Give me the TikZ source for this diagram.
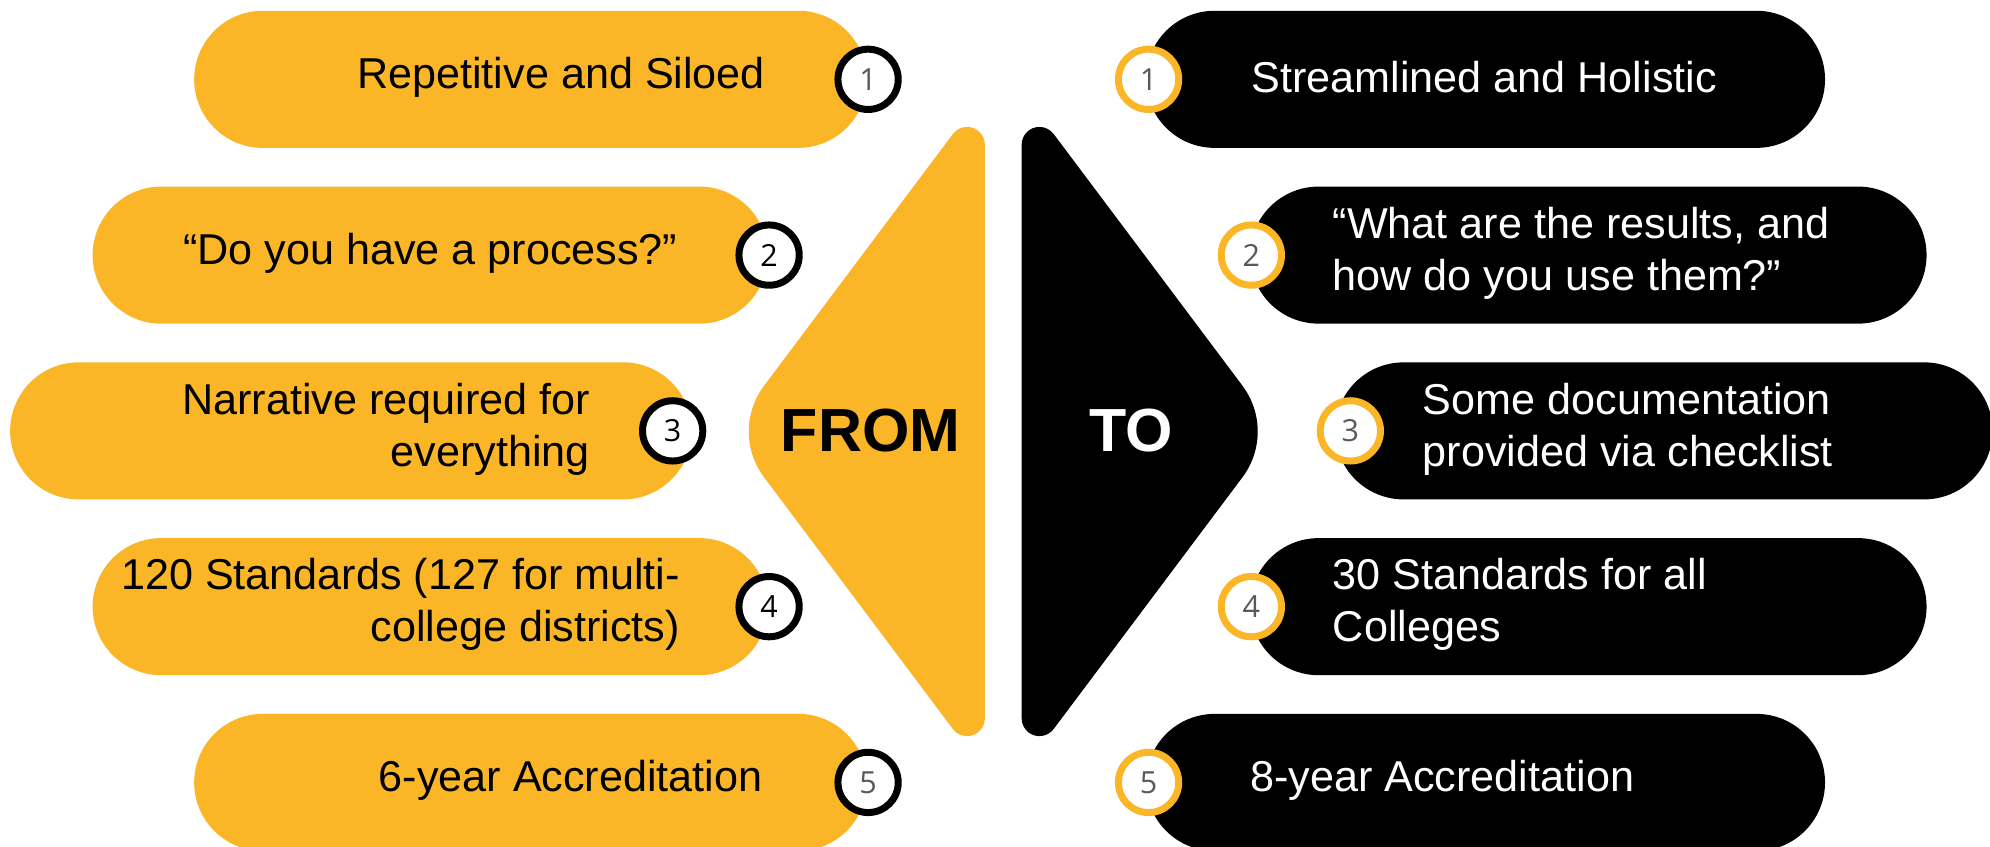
\documentclass[tikz,border=0pt]{standalone}
\usepackage{fontspec}
\setmainfont{Liberation Sans}
\newfontfamily\numfont{Open Sans}
\definecolor{yel}{RGB}{250,182,39}
\definecolor{numgray}{RGB}{89,89,89}
\tikzset{
  lpill/.style={rectangle, fill=yel, rounded corners=54pt, minimum height=108pt, inner sep=0pt},
  rpill/.style={rectangle, fill=black, rounded corners=54pt, minimum height=108pt, inner sep=0pt},
  numbase/.style={circle, fill=white, line width=5.5pt, minimum size=47.5pt, inner sep=0pt, font=\numfont\fontsize{24}{28}\selectfont},
  lnum/.style={numbase, draw=black, text=black},
  rnum/.style={numbase, draw=yel, text=numgray},
  txtbase/.style={inner sep=0pt, font=\fontsize{34}{41}\selectfont},
  ltxt/.style={txtbase, text=black, align=right},
  rtxt/.style={txtbase, text=white, align=left},
  bigtxt/.style={inner sep=0pt, font=\bfseries\fontsize{48}{56}\selectfont}
}
\begin{document}
\begin{tikzpicture}[x=1pt,y=-1pt]
\useasboundingbox (0,0) rectangle (1568,667);
\begin{scope}
\clip (0,0) rectangle (1568,667);
% central shapes
\fill[yel] (776,114) arc[start angle=0, end angle=-143.13, radius=14]
  -- (602,304) arc[start angle=-143.13, end angle=-216.87, radius=60]
  -- (750.8,574.4) arc[start angle=143.13, end angle=0, radius=14] -- cycle;
\fill[black] (805,114) arc[start angle=180, end angle=323.13, radius=14]
  -- (979,304) arc[start angle=-36.87, end angle=36.87, radius=60]
  -- (830.2,574.4) arc[start angle=36.87, end angle=180, radius=14] -- cycle;
\node[bigtxt, text=black] (from) at (686,339) {FROM};
\node[bigtxt, text=white] (to) at (891,339) {TO};
% left pills
\node[lpill, minimum width=530pt] (l1) at (418,62.5) {};
\node[lpill, minimum width=532pt] (l2) at (339,201) {};
\node[lpill, minimum width=537pt] (l3) at (276.5,339.5) {};
\node[lpill, minimum width=532pt] (l4) at (339,478) {};
\node[lpill, minimum width=530pt] (l5) at (418,616.5) {};
% right pills
\node[rpill, minimum width=535pt] (r1) at (1170.5,62.5) {};
\node[rpill, minimum width=533pt] (r2) at (1251.5,201) {};
\node[rpill, minimum width=518pt] (r3) at (1311,339.5) {};
\node[rpill, minimum width=533pt] (r4) at (1251.5,478) {};
\node[rpill, minimum width=535pt] (r5) at (1170.5,616.5) {};
% left texts
\node[ltxt, anchor=east] (lt1) at (603,61) {Repetitive and Siloed};
\node[ltxt] (lt2) at (339,199.5) {“Do you have a process?”};
\node[ltxt, anchor=east] (lt3) at (465,338) {Narrative required for\\everything};
\node[ltxt, anchor=east] (lt4) at (536,476.5) {120 Standards (127 for multi-\\college districts)};
\node[ltxt, anchor=east] (lt5) at (601,615) {6-year Accreditation};
% right texts
\node[rtxt, anchor=west] (rt1) at (986,61) {Streamlined and Holistic};
\node[rtxt, anchor=west] (rt2) at (1050,199.5) {“What are the results, and\\how do you use them?”};
\node[rtxt, anchor=west] (rt3) at (1121,338) {Some documentation\\provided via checklist};
\node[rtxt, anchor=west] (rt4) at (1050,476.5) {30 Standards for all\\Colleges};
\node[rtxt, anchor=west] (rt5) at (985,615) {8-year Accreditation};
% number circles
\node[lnum, text=numgray] (ln1) at (684,62.5) {1};
\node[lnum] (ln2) at (606,201) {2};
\node[lnum] (ln3) at (530,339.5) {3};
\node[lnum] (ln4) at (606,478) {4};
\node[lnum, text=numgray] (ln5) at (684,616.5) {5};
\node[rnum] (rn1) at (905,62.5) {1};
\node[rnum] (rn2) at (986,201) {2};
\node[rnum] (rn3) at (1064,339.5) {3};
\node[rnum] (rn4) at (986,478) {4};
\node[rnum] (rn5) at (905,616.5) {5};
\end{scope}
\end{tikzpicture}
\end{document}
